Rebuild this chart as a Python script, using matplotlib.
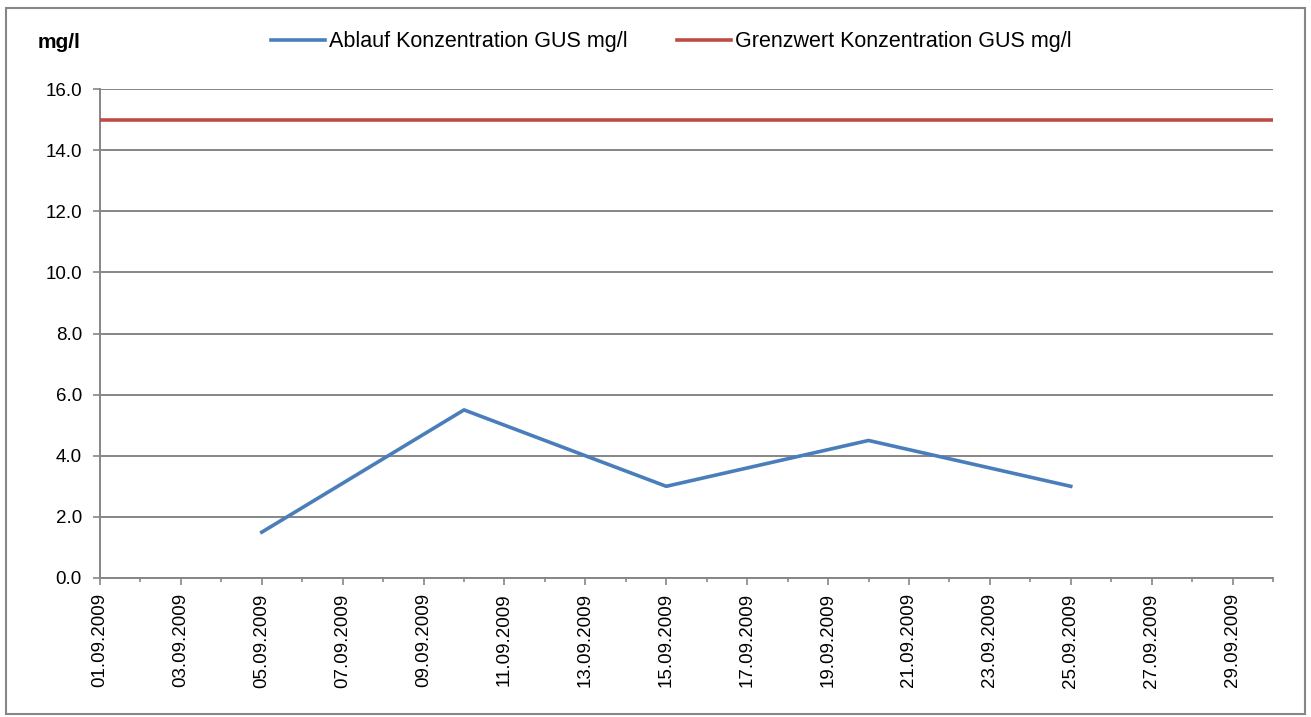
import matplotlib
matplotlib.use("Agg")
from matplotlib import pyplot as plt
import matplotlib.dates as mdates
import matplotlib.patches as mpatches
import pandas as pd

plt.rcParams['font.family'] = ['Liberation Sans', 'DejaVu Sans']

# measured values
dates = ['05.09.2009', '10.09.2009', '15.09.2009', '20.09.2009', '25.09.2009']
ablauf = [1.5, 5.5, 3.0, 4.5, 3.0]

limit_dates = ['01.09.2009', '30.09.2009']
grenzwert = [15.0, 15.0]

label_ablauf = "Ablauf Konzentration GUS mg/l"
label_grenz = "Grenzwert Konzentration GUS mg/l"

x_ablauf = pd.to_datetime(dates, format='%d.%m.%Y')
x_grenz = pd.to_datetime(limit_dates, format='%d.%m.%Y')

blue = '#4A7EBB'
red = '#BE4B48'
grey = '#868686'

fig = plt.figure(figsize=(13.11, 7.17), dpi=100)
ax = fig.add_axes([100 / 1311, 1 - 578 / 717, (1273 - 100) / 1311, (578 - 89) / 717])

ax.plot(x_ablauf, ablauf, color=blue, lw=2.6, label=label_ablauf, zorder=3)
ax.plot(x_grenz, grenzwert, color=red, lw=2.6, label=label_grenz, zorder=3)

ax.set_xlim(x_grenz[0], x_grenz[1])
ax.set_ylim(0, 16)
ax.set_yticks([0, 2, 4, 6, 8, 10, 12, 14, 16])
ax.yaxis.set_major_formatter(plt.FormatStrFormatter('%.1f'))

ax.xaxis.set_major_locator(mdates.DayLocator(bymonthday=range(1, 31, 2)))
ax.xaxis.set_minor_locator(mdates.DayLocator())
ax.xaxis.set_major_formatter(mdates.DateFormatter('%d.%m.%Y'))
plt.setp(ax.get_xticklabels(), rotation=90)

ax.grid(axis='y', color=grey, lw=1.4)
ax.set_axisbelow(True)
for s in ['top', 'right']:
    ax.spines[s].set_visible(False)
for s in ['left', 'bottom']:
    ax.spines[s].set_color(grey)
    ax.spines[s].set_linewidth(1.4)

ax.tick_params(axis='both', which='major', colors=grey, labelcolor='black',
               labelsize=13.5, length=5, width=1.2)
ax.tick_params(axis='x', which='minor', colors=grey, length=3, width=1.2)
ax.tick_params(axis='x', which='major', pad=6)
ax.tick_params(axis='y', pad=8)

fig.text(38 / 1311, 1 - 43 / 717, "mg/l", fontsize=15, fontweight='bold',
         va='center', ha='left')

fig.legend(loc='center', bbox_to_anchor=(0.512, 1 - 42 / 717), ncol=2,
           frameon=False, fontsize=15.5, handlelength=2.5, handletextpad=0.2,
           columnspacing=2.3)

# chart border
fig.patches.append(mpatches.Rectangle((6 / 1311, 3 / 717), 1299 / 1311, 706 / 717,
                                      transform=fig.transFigure, fill=False,
                                      edgecolor=grey, lw=1.5))

fig.savefig('out.png', dpi=100)
